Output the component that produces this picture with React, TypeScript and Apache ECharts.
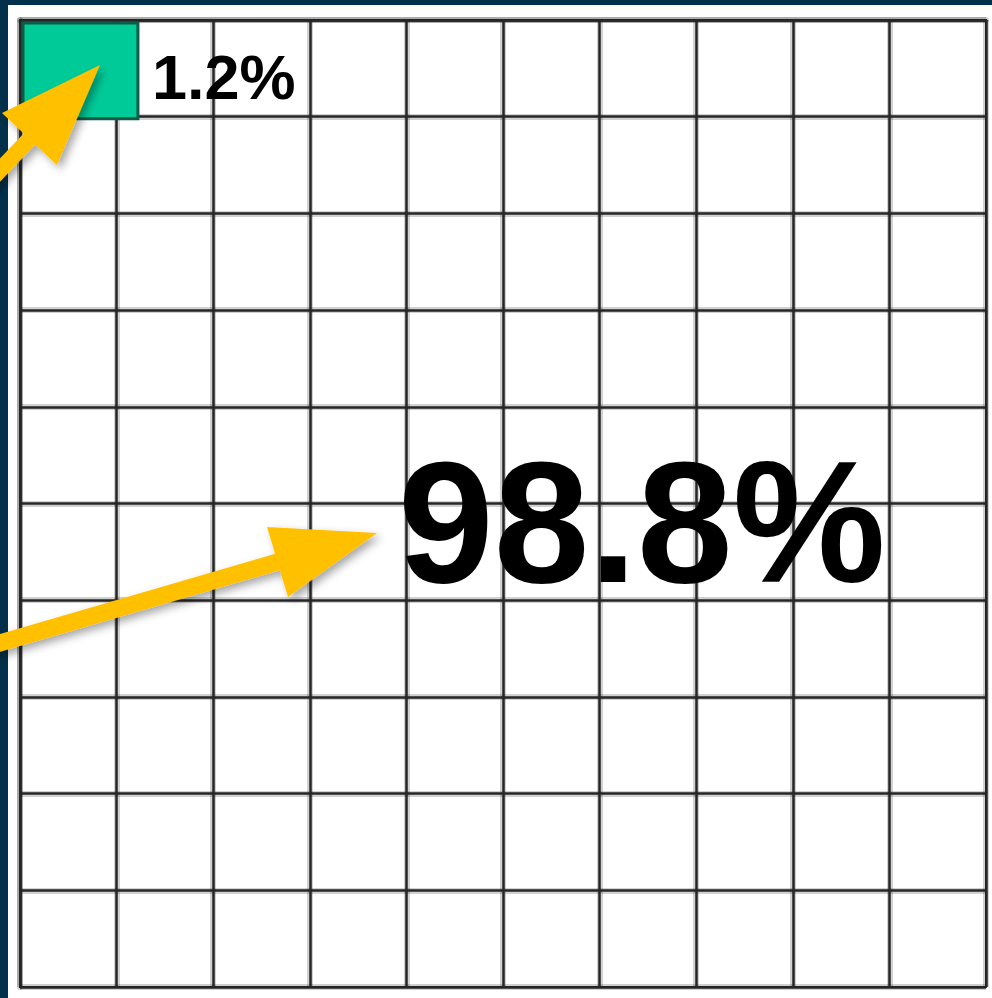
import React, { useEffect, useRef } from "react";
import * as echarts from "echarts";

// ---- data ----
const CATEGORIES = ["Share", "Rest"];
const PERCENTS = [1.2, 98.8];
const GRID_COLS = 10;
const GRID_ROWS = 10;

const NAVY = "#03304a";
const GREEN = "#00CB98";
const GREEN_EDGE = "#0d5c45";
const ARROW = "#FFC000";
const LINE = "#262626";

type P = [number, number];

function arrowPoints(tip: P, c1: P, c2: P, tailX: number, w: number): P[] {
  const m: P = [(c1[0] + c2[0]) / 2, (c1[1] + c2[1]) / 2];
  let ux = m[0] - tip[0];
  let uy = m[1] - tip[1];
  const ul = Math.hypot(ux, uy);
  ux /= ul;
  uy /= ul;
  const t = (tailX - m[0]) / ux;
  const tail: P = [m[0] + ux * t, m[1] + uy * t];
  let nx = -uy;
  let ny = ux;
  if ((c1[0] - m[0]) * nx + (c1[1] - m[1]) * ny < 0) {
    nx = -nx;
    ny = -ny;
  }
  const h = w / 2;
  return [
    tip,
    c1,
    [m[0] + nx * h, m[1] + ny * h],
    [tail[0] + nx * h, tail[1] + ny * h],
    [tail[0] - nx * h, tail[1] - ny * h],
    [m[0] - nx * h, m[1] - ny * h],
    c2,
  ];
}

function makeAxis(max: number, inverse: boolean, halo: boolean) {
  const ls = halo
    ? { color: "rgba(0,0,0,0.18)", width: 6 }
    : { color: LINE, width: 2.5 };
  return {
    type: "value" as const,
    min: 0,
    max,
    interval: 1,
    inverse,
    axisLabel: { show: false },
    axisTick: { show: false },
    axisLine: { show: true, lineStyle: ls },
    splitLine: { show: true, lineStyle: ls },
    z: halo ? 0 : 1,
  };
}

export default function App() {
  const ref = useRef<HTMLDivElement>(null);

  useEffect(() => {
    if (!ref.current) return;
    const chart = echarts.init(ref.current, undefined, { renderer: "svg" });

    // highlighted cells: 1 cell = 1 %, laid along the first row
    const cellData = [[0, PERCENTS[0], 0, 1, CATEGORIES[0]]];

    const arrowShadow = {
      shadowBlur: 8,
      shadowOffsetX: 4,
      shadowOffsetY: 4,
      shadowColor: "rgba(0,0,0,0.35)",
    };

    chart.setOption({
      animation: false,
      backgroundColor: "#ffffff",
      grid: {
        left: 20,
        top: 20,
        width: 966,
        height: 967,
        show: true,
        borderColor: LINE,
        borderWidth: 2,
      },
      xAxis: [makeAxis(GRID_COLS, false, true), makeAxis(GRID_COLS, false, false)],
      yAxis: [makeAxis(GRID_ROWS, true, true), makeAxis(GRID_ROWS, true, false)],
      series: [
        {
          type: "custom",
          name: CATEGORIES[0],
          data: cellData,
          xAxisIndex: 1,
          yAxisIndex: 1,
          encode: { x: [0, 1], y: [2, 3] },
          z: 5,
          renderItem: (params: any, api: any) => {
            const p0 = api.coord([api.value(0), api.value(2)]);
            const p1 = api.coord([api.value(1), api.value(3)]);
            return {
              type: "rect",
              shape: {
                x: p0[0] + 3,
                y: p0[1] + 3,
                width: p1[0] - p0[0] - 1,
                height: p1[1] - p0[1] - 1,
              },
              style: { fill: GREEN, stroke: GREEN_EDGE, lineWidth: 3 },
            };
          },
        },
      ],
      graphic: [
        { type: "rect", shape: { x: 0, y: 0, width: 992, height: 5 }, style: { fill: NAVY }, z: 10 },
        { type: "rect", shape: { x: 0, y: 0, width: 8, height: 998 }, style: { fill: NAVY }, z: 10 },
        {
          type: "text",
          x: 152,
          y: 77,
          z: 20,
          style: {
            text: `${PERCENTS[0]}%`,
            font: 'bold 63px "Liberation Sans", Arial, sans-serif',
            fill: "#000",
            textAlign: "left",
            textVerticalAlign: "middle",
          },
        },
        {
          type: "text",
          x: 398,
          y: 522,
          z: 20,
          style: {
            text: `${PERCENTS[1]}%`,
            font: 'bold 172px "Liberation Sans", Arial, sans-serif',
            fill: "#000",
            textAlign: "left",
            textVerticalAlign: "middle",
          },
        },
        {
          type: "polygon",
          z: 30,
          shape: { points: arrowPoints([100, 65], [2, 113], [57, 165], -30, 16) },
          style: { fill: ARROW, ...arrowShadow },
        },
        {
          type: "polygon",
          z: 30,
          shape: { points: arrowPoints([377, 533], [267, 527], [288, 597], -30, 17) },
          style: { fill: ARROW, ...arrowShadow },
        },
      ],
    });

    return () => chart.dispose();
  }, []);

  return (
    <div
      ref={ref}
      style={{ position: "fixed", left: 0, top: 0, width: 992, height: 998 }}
    />
  );
}
